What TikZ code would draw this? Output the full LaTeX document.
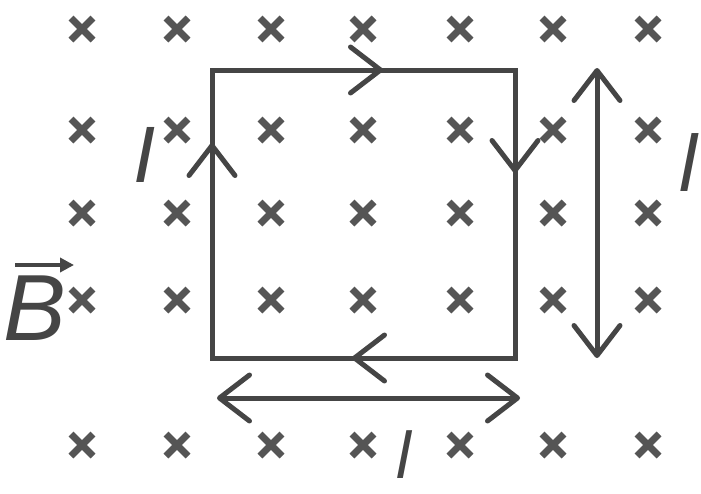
\documentclass[tikz,border=0pt]{standalone}
\usepackage{fontspec}
\setmainfont{Liberation Sans}
\usetikzlibrary{arrows.meta}
\definecolor{ink}{HTML}{454545}
\definecolor{crossc}{HTML}{555555}
\begin{document}
\begin{tikzpicture}[x=1pt,y=-1pt,
  wire/.style={draw=ink,line width=5pt},
  barb/.tip={Straight Barb[round,length=30pt,width=46pt]},
  tipped/.style={-barb},
  dimarrow/.style={barb-barb},
  crossmark/.style={draw=crossc,line width=7pt},
  lab/.style={inner sep=0pt,text=ink,font=\fontsize{80}{80}\selectfont\itshape},
  blab/.style={inner sep=0pt,text=ink,font=\fontsize{94}{94}\selectfont\itshape}]
\fill[white] (0,0) rectangle (701,493);
\useasboundingbox (0,0) rectangle (701,493);
% crosses
\foreach \x in {82,177,271,363,460,553,648}
  \foreach \y in {29,130,213,300,445}
    \draw[crossmark] (\x-11,\y-11) -- (\x+11,\y+11) (\x-11,\y+11) -- (\x+11,\y-11);
% loop
\coordinate (A) at (212,70);
\coordinate (B) at (515,70);
\coordinate (C) at (515,358);
\coordinate (D) at (212,358);
\draw[wire,line join=miter] (A) -- (B) -- (C) -- (D) -- cycle;
\coordinate (t1) at (383,70);
\coordinate (t2) at (515,173);
\coordinate (t3) at (212,143);
\coordinate (t4) at (352,358);
\draw[wire,tipped] (330,70) -- (t1);
\draw[wire,tipped] (515,120) -- (t2);
\draw[wire,tipped] (212,200) -- (t3);
\draw[wire,tipped] (400,358) -- (t4);
% dimension arrows
\coordinate (v1) at (597,68);
\coordinate (v2) at (597,358);
\coordinate (h1) at (217,398);
\coordinate (h2) at (520,398);
\draw[wire,dimarrow] (v1) -- (v2);
\draw[wire,dimarrow] (h1) -- (h2);
% labels
\node[lab] (Icur) at (145,155) {I};
\node[lab] (lv) at (688,163) {l};
\node[lab,font=\fontsize{66}{66}\selectfont\itshape] (lh) at (404,455) {l};
\node[blab] (Bf) at (35,308) {B};
\coordinate (ba) at (15,265);
\coordinate (bb) at (74,265);
\draw[draw=ink,line width=4.5pt,-{Triangle[length=14pt,width=14pt]}] (ba) -- (bb);
\end{tikzpicture}
\end{document}
